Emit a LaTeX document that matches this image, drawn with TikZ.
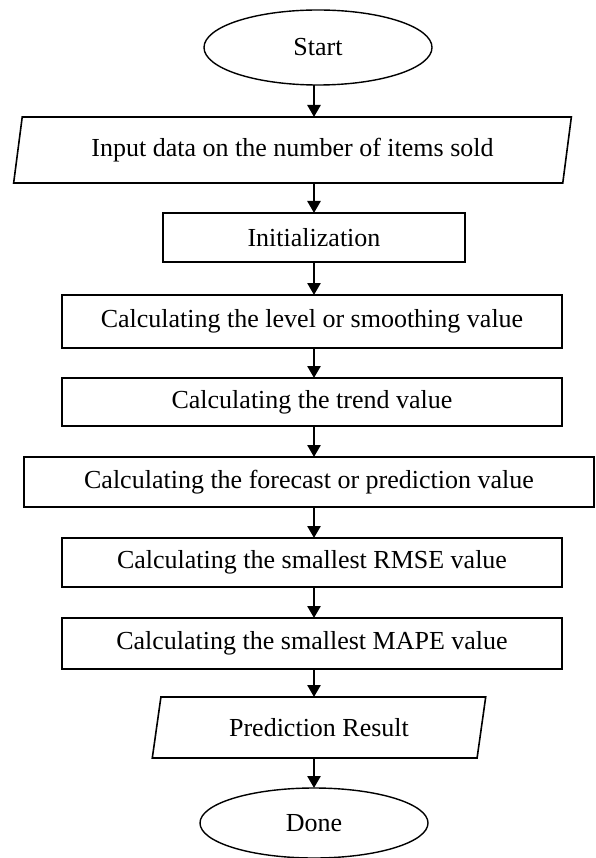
\documentclass[tikz,border=0pt]{standalone}
\usepackage{fontspec}
\setmainfont{Liberation Serif}
\usetikzlibrary{shapes.geometric,arrows.meta}
\begin{document}
\begin{tikzpicture}[x=1pt,y=-1pt,
  every node/.style={font=\fontsize{26}{30}\selectfont, inner sep=0pt, outer sep=0pt},
  terminal/.style={ellipse, draw, line width=1.4pt, minimum width=228pt},
  process/.style={rectangle, draw, line width=1.6pt},
  io/.style={trapezium, trapezium left angle=75, trapezium right angle=105,
    trapezium stretches=true, draw, line width=1.6pt},
  flow/.style={line width=2.6pt, -{Triangle[width=13pt,length=12pt]}}]
\useasboundingbox (0,0) rectangle (595,858);
% vertical line carrying all connectors
\coordinate (spine) at (314,0);

\node[terminal, minimum height=75pt] (start) at (318,47.5) {Start};
\node[io, minimum width=561pt, minimum height=66pt] (input) at (292.5,150)
  {Input data on the number of items sold};
\node[process, minimum width=302pt, minimum height=49pt] (init) at (314,237.5)
  {Initialization};
\node[process, minimum width=500pt, minimum height=53pt] (level) at (312,321.5)
  {Calculating the level or smoothing value};
\node[process, minimum width=500pt, minimum height=48pt] (trend) at (312,402)
  {Calculating the trend value};
\node[process, minimum width=570pt, minimum height=50pt] (forecast) at (309,482)
  {Calculating the forecast or prediction value};
\node[process, minimum width=500pt, minimum height=49pt] (rmse) at (312,562.5)
  {Calculating the smallest RMSE value};
\node[process, minimum width=500pt, minimum height=51pt] (mape) at (312,643.5)
  {Calculating the smallest MAPE value};
\node[io, minimum width=334pt, minimum height=61pt] (result) at (319,727.5)
  {Prediction Result};
\node[terminal, minimum height=70pt] (done) at (314,823) {Done};

\draw[flow] (start.south -| spine) -- (input.north -| spine);
\draw[flow] (input.south -| spine) -- (init.north -| spine);
\draw[flow] (init.south -| spine) -- (level.north -| spine);
\draw[flow] (level.south -| spine) -- (trend.north -| spine);
\draw[flow] (trend.south -| spine) -- (forecast.north -| spine);
\draw[flow] (forecast.south -| spine) -- (rmse.north -| spine);
\draw[flow] (rmse.south -| spine) -- (mape.north -| spine);
\draw[flow] (mape.south -| spine) -- (result.north -| spine);
\draw[flow] (result.south -| spine) -- (done.north -| spine);
\end{tikzpicture}
\end{document}
